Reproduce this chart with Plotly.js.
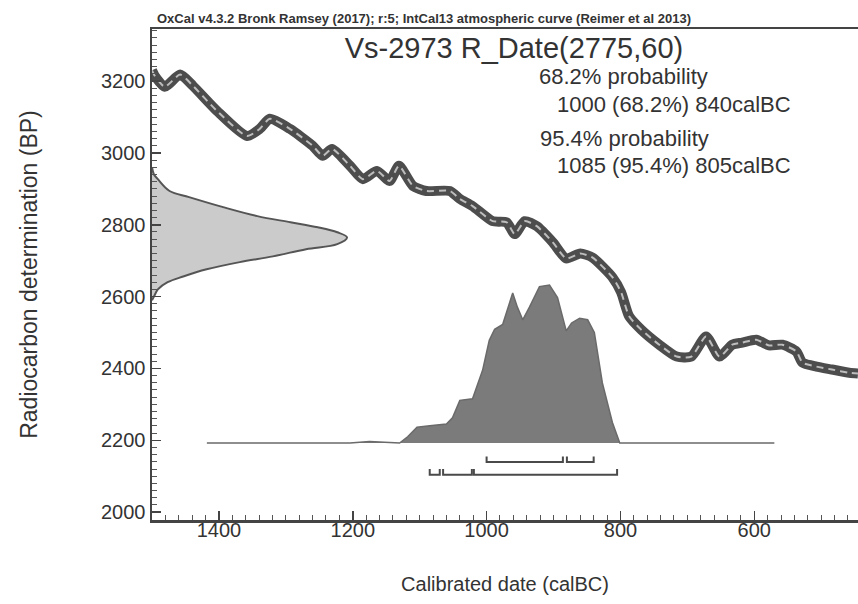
<!DOCTYPE html>
<html>
<head>
<meta charset="utf-8">
<script src="https://cdn.plot.ly/plotly-3.0.1.min.js"></script>
<style>html,body{margin:0;padding:0;background:#fff;}#chart{width:858px;height:604px;}</style>
</head>
<body>
<div id="chart"></div>
<script>
// Calibration curve (IntCal13): calendar year (calBC) and radiocarbon age (BP)
const curveYears = [1500,1496,1481,1458,1439,1403,1358,1339,1324,1294,1260,1245,1231,1204,1185,1164,1145,1131,1110,1090,1055,1040,1021,991,970,958,943,925,901,881,860,842,812,799,787,769,742,716,694,672,652,633,618,597,578,558,537,528,507,484,458,445];
const curveBP    = [3230,3215,3184,3218,3187,3117,3047,3067,3095,3067,3020,2992,3011,2964,2927,2950,2922,2964,2908,2894,2894,2872,2852,2810,2807,2774,2810,2796,2751,2706,2720,2709,2654,2612,2545,2508,2466,2433,2433,2489,2433,2466,2472,2480,2464,2466,2447,2416,2405,2397,2388,2386];

// Radiocarbon measurement distribution R_Date(2775,60): BP value and relative probability
const dateBP   = [2960,2940,2927,2894,2877,2849,2824,2807,2793,2779,2765,2746,2732,2712,2696,2676,2656,2640,2620,2600,2590];
const dateProb = [0,0.01,0.03,0.09,0.19,0.365,0.54,0.71,0.85,0.95,1.0,0.95,0.79,0.62,0.45,0.28,0.16,0.08,0.03,0.01,0];

// Calibrated date distribution: calendar year (calBC) and relative probability
const calYears = [1418,1204,1175,1155,1130,1118,1104,1085,1060,1051,1040,1021,1006,996,988,976,969,961,954,946,936,921,906,894,881,873,861,849,839,827,812,801,570];
const calProb  = [0,0,0.01,0.006,0,0.04,0.10,0.11,0.12,0.16,0.27,0.28,0.46,0.65,0.72,0.75,0.84,0.95,0.86,0.78,0.86,0.99,1.0,0.92,0.71,0.76,0.79,0.78,0.70,0.38,0.13,0,0];

// Highest probability ranges (calBC)
const range68 = [[1000,886],[880,840]];
const range95 = [[1085,1070],[1065,1022],[1019,805]];

// Tick labels
const xTicks = [1400,1200,1000,800,600];
const yTicks = [2000,2200,2400,2600,2800,3000,3200];

const FONT = 'Liberation Sans, Arial, sans-serif';
const TXT = '#333333';

function bracketTrace(ranges, level, tickTop) {
  const xs = [], ys = [];
  ranges.forEach(r => {
    xs.push(r[0], r[0], r[1], r[1], null);
    ys.push(tickTop, level, level, tickTop, null);
  });
  return {x: xs, y: ys, xaxis: 'x', yaxis: 'y2', mode: 'lines',
          line: {color: '#4a4a4a', width: 2}, hoverinfo: 'skip', showlegend: false};
}

const traces = [
  // measurement distribution on the radiocarbon axis
  {x: dateProb, y: dateBP, xaxis: 'x2', yaxis: 'y', mode: 'lines', fill: 'tozerox',
   fillcolor: '#cbcbcb', line: {color: '#555555', width: 2, shape: 'spline'}, showlegend: false},
  // calibration curve band
  {x: curveYears, y: curveBP, xaxis: 'x', yaxis: 'y', mode: 'lines',
   line: {color: '#4d4d4d', width: 10, shape: 'spline', smoothing: 0.6}, showlegend: false},
  {x: curveYears, y: curveBP, xaxis: 'x', yaxis: 'y', mode: 'lines',
   line: {color: '#bdbdbd', width: 2, dash: '7px,5px', shape: 'spline', smoothing: 0.6}, showlegend: false},
  // calibrated distribution
  {x: calYears, y: calProb, xaxis: 'x', yaxis: 'y2', mode: 'lines', fill: 'tozeroy',
   fillcolor: '#7b7b7b', line: {color: '#6a6a6a', width: 1.5}, showlegend: false},
  bracketTrace(range68, -0.12, -0.085),
  bracketTrace(range95, -0.2, -0.165)
];

const axisCommon = {
  showline: true, linecolor: '#444444', linewidth: 2.5, showgrid: false, zeroline: false,
  ticks: 'inside', tickcolor: '#444444', tickwidth: 1.5, ticklen: 9,
  tickfont: {family: FONT, size: 20, color: TXT}
};

const layout = {
  width: 858, height: 604,
  margin: {l: 152, r: 0, t: 29, b: 84},
  paper_bgcolor: '#ffffff', plot_bgcolor: '#ffffff',
  title: {text: 'Vs-2973 R_Date(2775,60)', x: 0.599, xanchor: 'center', y: 0.92, yanchor: 'middle',
          xref: 'container', yref: 'container', font: {family: FONT, size: 29, color: TXT}},
  xaxis: Object.assign({}, axisCommon, {
    range: [1500, 445], tickvals: xTicks, ticktext: xTicks.map(String), mirror: true,
    ticklabelstandoff: -10,
    minor: {dtick: 20, ticks: 'inside', ticklen: 5, tickcolor: '#555555', tickwidth: 1},
    title: {text: 'Calibrated date (calBC)', standoff: 38, font: {family: FONT, size: 20, color: TXT}}
  }),
  yaxis: Object.assign({}, axisCommon, {
    range: [1978, 3345], tickvals: yTicks, ticktext: yTicks.map(String),
    minor: {dtick: 20, ticks: 'inside', ticklen: 5, tickcolor: '#555555', tickwidth: 1},
    title: {text: 'Radiocarbon determination (BP)', standoff: 57, font: {family: FONT, size: 23, color: TXT}}
  }),
  xaxis2: {overlaying: 'x', anchor: 'y', range: [0, 3.62], visible: false, fixedrange: true},
  yaxis2: {overlaying: 'y', anchor: 'x', range: [-0.487, 2.62], visible: false, fixedrange: true},
  annotations: [
    {text: '<b>OxCal v4.3.2 Bronk Ramsey (2017); r:5; IntCal13 atmospheric curve (Reimer et al 2013)</b>',
     xref: 'paper', yref: 'paper', x: 0.004, y: 1.022, xanchor: 'left', yanchor: 'middle', showarrow: false,
     font: {family: FONT, size: 13, color: TXT}},
    {text: '68.2% probability', xref: 'paper', yref: 'paper', x: 0.545, y: 0.904,
     xanchor: 'left', yanchor: 'middle', showarrow: false, font: {family: FONT, size: 22, color: TXT}},
    {text: '1000 (68.2%) 840calBC', xref: 'paper', yref: 'paper', x: 0.571, y: 0.847,
     xanchor: 'left', yanchor: 'middle', showarrow: false, font: {family: FONT, size: 22, color: TXT}},
    {text: '95.4% probability', xref: 'paper', yref: 'paper', x: 0.547, y: 0.778,
     xanchor: 'left', yanchor: 'middle', showarrow: false, font: {family: FONT, size: 22, color: TXT}},
    {text: '1085 (95.4%) 805calBC', xref: 'paper', yref: 'paper', x: 0.571, y: 0.721,
     xanchor: 'left', yanchor: 'middle', showarrow: false, font: {family: FONT, size: 22, color: TXT}}
  ]
};

Plotly.newPlot('chart', traces, layout, {staticPlot: true, displayModeBar: false});
</script>
</body>
</html>
